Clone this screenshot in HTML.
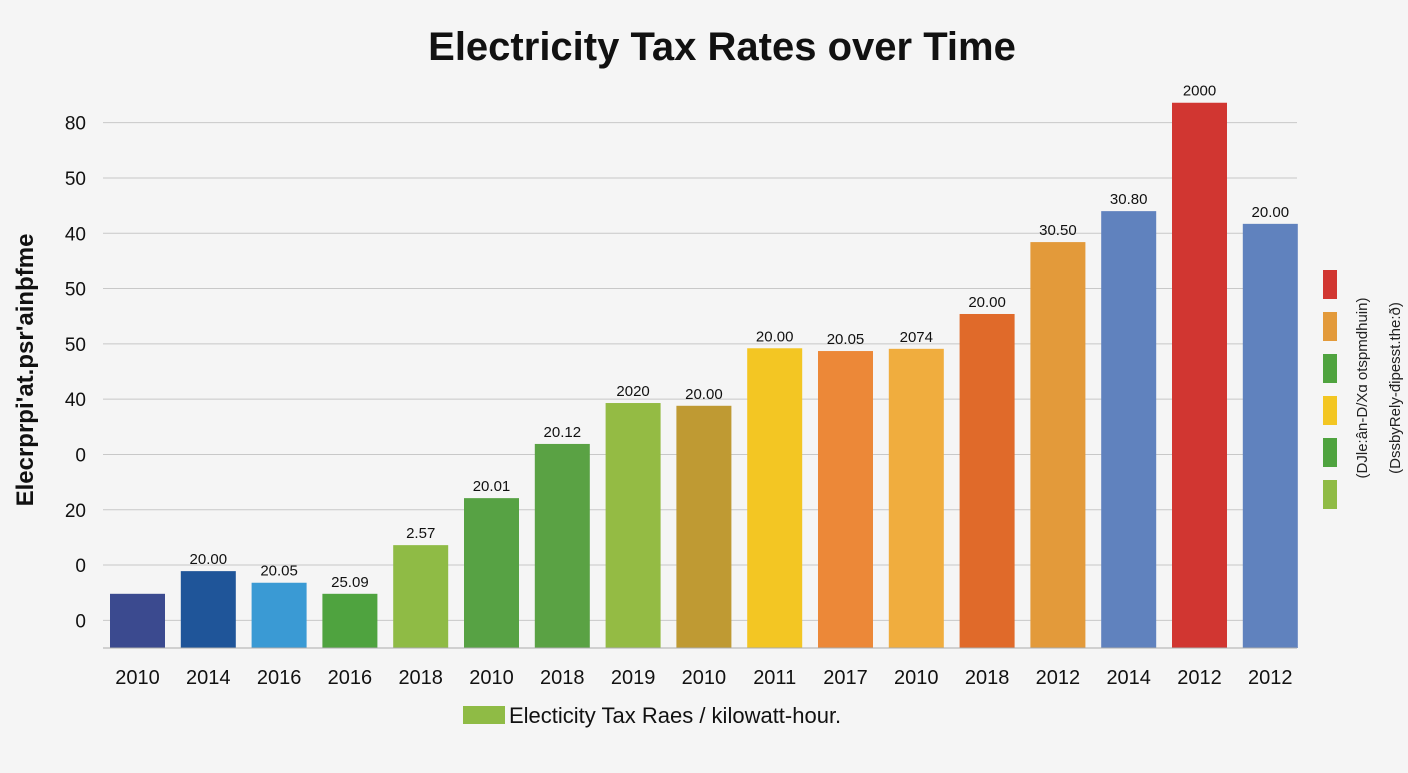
<!DOCTYPE html>
<html><head><meta charset="utf-8">
<style>
body{margin:0;background:#f5f5f5;width:1408px;height:768px;overflow:hidden;font-family:"Liberation Sans",sans-serif;}
svg text{font-family:"Liberation Sans",sans-serif;}
</style></head>
<body>
<svg id="chart" width="1408" height="768" xmlns="http://www.w3.org/2000/svg">
<rect width="1408" height="768" fill="#f5f5f5"/>
<text x="722" y="60" text-anchor="middle" font-size="40" font-weight="bold" fill="#111">Electricity Tax Rates over Time</text>
<text transform="translate(33,370) rotate(-90)" text-anchor="middle" font-size="24" font-weight="bold" fill="#111">Elecrprpi'at.psr'ainþfme</text>
<g id="grid"></g><g id="bars"></g>
<line x1="103" y1="648" x2="1297" y2="648" stroke="#aaa"/>
<g>
<rect x="1323" y="270" width="14" height="29" fill="#d13631"/>
<rect x="1323" y="312" width="14" height="29" fill="#e39a3a"/>
<rect x="1323" y="354" width="14" height="29" fill="#4fa33f"/>
<rect x="1323" y="396" width="14" height="29" fill="#f3c623"/>
<rect x="1323" y="438" width="14" height="29" fill="#4fa33f"/>
<rect x="1323" y="480" width="14" height="29" fill="#8fbb45"/>
<text transform="translate(1367,388) rotate(-90)" text-anchor="middle" font-size="15" fill="#222">(DJle:ân-D/Xɑ otspmdhuin)</text>
<text transform="translate(1400,388) rotate(-90)" text-anchor="middle" font-size="15" fill="#222">(DssbyRely-đipesst.the:ð)</text>
</g>
<g>
<rect x="463" y="706" width="42" height="18" fill="#8fbb45"/>
<text x="509" y="723" font-size="22" fill="#111">Electicity Tax Raes / kilowatt-hour.</text>
</g>
</svg>
<script>
const categories=["2010","2014","2016","2016","2018","2010","2018","2019","2010","2011","2017","2010","2018","2012","2014","2012","2012"];
const values=[9.8,13.9,11.8,9.8,18.6,27.1,36.9,44.3,43.8,54.2,53.7,54.1,60.4,73.4,79,98.6,76.7];
const valueLabels=["","20.00","20.05","25.09","2.57","20.01","20.12","2020","20.00","20.00","20.05","2074","20.00","30.50","30.80","2000","20.00"];
const colors=["#3b4a8f","#1f5599","#3a9ad4","#4fa33f","#8fbb45","#57a244","#5aa244","#94bb44","#bf9a33","#f3c623","#ec8838","#f0ad3e","#e06a2a","#e39a3a","#6082be","#d13631","#6082be"];
const tickValues=[5,15,25,35,45,55,65,75,85,95];
const tickLabels=["0","0","20","0","40","50","50","40","50","80"];
const NS="http://www.w3.org/2000/svg";
const y=v=>648-v*5.53;
const x=i=>110+i*70.8;
const g=document.getElementById('grid'),b=document.getElementById('bars');
function mk(tag,at,parent){const e=document.createElementNS(NS,tag);for(const k in at)e.setAttribute(k,at[k]);parent.appendChild(e);return e;}
tickValues.forEach((t,i)=>{
 const l=mk('line',{x1:103,x2:1297,y1:y(t),y2:y(t),stroke:'#c8c8c8'},g);
 
 
 const tx=mk('text',{x:86,y:y(t)+7,'text-anchor':'end','font-size':19,fill:'#111'},g);
 tx.textContent=tickLabels[i];
 
 
});
values.forEach((v,i)=>{
 const r=mk('rect',{x:x(i),y:y(v),width:55,height:648-y(v),fill:colors[i]},b);
 
 
 const c=mk('text',{x:x(i)+27.5,y:684,'text-anchor':'middle','font-size':20,fill:'#111'},b);
 c.textContent=categories[i];
 
 
 if(valueLabels[i]){
  const t=mk('text',{x:x(i)+27.5,y:y(v)-7,'text-anchor':'middle','font-size':15,fill:'#111'},b);
  t.textContent=valueLabels[i];
  
  
 }
});
</script>
</body></html>
